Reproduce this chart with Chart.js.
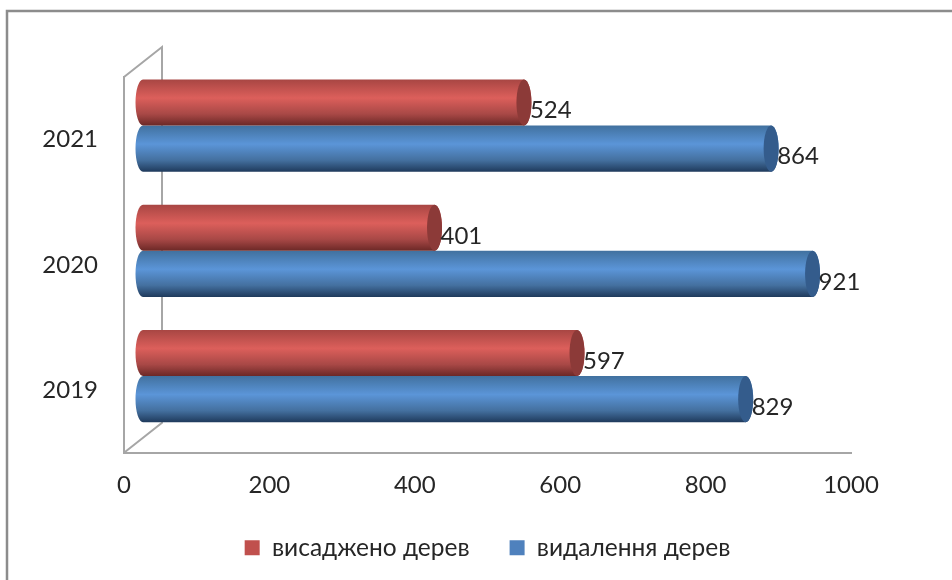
<!DOCTYPE html>
<html lang="uk">
<head>
  <meta charset="UTF-8">
  <title>Дерева</title>
  <script src="https://cdn.jsdelivr.net/npm/chart.js"></script>
  <style>
    html, body { margin: 0; background: #fff; }
    #wrap { position: relative; width: 952px; height: 580px; }
  </style>
</head>
<body>
  <div id="wrap"><canvas id="treesChart"></canvas></div>

  <script>
    const years = ['2021', '2020', '2019'];
    const planted = [524, 401, 597];
    const removed = [864, 921, 829];
    const plantedLabel = 'висаджено дерев';
    const removedLabel = 'видалення дерев';

    const FONT = 'Lato, "Open Sans", sans-serif';
    const WALL_DX = 38, WALL_DY = 30;
    const BAR_DX = 19, BAR_DY = 14;
    const CAP = 7.5;

    // [top, light middle, dark lower, bottom edge, cap]
    const shades = {
      red: ['#a84643', '#dc5f5b', '#a84846', '#6b2826', '#8c3a38'],
      blue: ['#41719f', '#5b95d8', '#44709f', '#1f3a5c', '#345c8c']
    };

    function cylinder(ctx, x0, x1, top, h, s) {
      const g = ctx.createLinearGradient(0, top, 0, top + h);
      g.addColorStop(0, s[0]);
      g.addColorStop(0.4, s[1]);
      g.addColorStop(0.75, s[2]);
      g.addColorStop(1, s[3]);
      const mid = top + h / 2;
      ctx.fillStyle = g;
      ctx.beginPath();
      ctx.moveTo(x0, top);
      ctx.lineTo(x1, top);
      ctx.ellipse(x1, mid, CAP, h / 2, 0, -Math.PI / 2, Math.PI / 2);
      ctx.lineTo(x0, top + h);
      ctx.ellipse(x0, mid, CAP, h / 2, 0, Math.PI / 2, Math.PI * 1.5);
      ctx.closePath();
      ctx.fill();
      ctx.fillStyle = s[4];
      ctx.beginPath();
      ctx.ellipse(x1, mid, CAP, h / 2, 0, 0, Math.PI * 2);
      ctx.fill();
    }

    const box3d = {
      id: 'box3d',
      beforeDatasetsDraw(chart) {
        const { ctx, chartArea: a } = chart;
        ctx.save();
        ctx.strokeStyle = '#a6a6a6';
        ctx.lineWidth = 2;
        ctx.beginPath();
        ctx.moveTo(a.left, a.top);
        ctx.lineTo(a.left + WALL_DX, a.top - WALL_DY);
        ctx.lineTo(a.left + WALL_DX, a.bottom - WALL_DY);
        ctx.lineTo(a.left, a.bottom);
        ctx.stroke();
        ctx.restore();
      },
      // own drawing in place of the flat bars, from the library's bar elements
      beforeDatasetDraw(chart, args) {
        const { ctx } = chart;
        const zero = chart.scales.x.getPixelForValue(0);
        const s = args.index === 0 ? shades.red : shades.blue;
        args.meta.data.forEach(bar => {
          cylinder(ctx, zero + BAR_DX, bar.x + BAR_DX, bar.y - bar.height / 2 - BAR_DY, bar.height, s);
        });
        return false;
      },
      afterDatasetsDraw(chart) {
        const { ctx } = chart;
        ctx.save();
        ctx.font = '24px ' + FONT;
        ctx.fillStyle = '#262626';
        ctx.textBaseline = 'middle';
        chart.data.datasets.forEach((ds, i) => {
          chart.getDatasetMeta(i).data.forEach((bar, j) => {
            ctx.fillText(ds.data[j], bar.x + BAR_DX + 6, bar.y - BAR_DY + 8);
          });
        });
        ctx.restore();
      },
      afterDraw(chart) {
        const { ctx } = chart;
        ctx.save();
        ctx.strokeStyle = '#8c8c8c';
        ctx.lineWidth = 2.5;
        ctx.beginPath();
        ctx.moveTo(7, 580);
        ctx.lineTo(7, 11);
        ctx.lineTo(952, 11);
        ctx.stroke();
        ctx.restore();
      }
    };

    new Chart(document.getElementById('treesChart').getContext('2d'), {
      type: 'bar',
      data: {
        labels: years,
        datasets: [
          { label: plantedLabel, data: planted, backgroundColor: '#c0504d', categoryPercentage: 0.736, barPercentage: 1 },
          { label: removedLabel, data: removed, backgroundColor: '#4f81bd', categoryPercentage: 0.736, barPercentage: 1 }
        ]
      },
      options: {
        indexAxis: 'y',
        responsive: true,
        maintainAspectRatio: false,
        animation: false,
        layout: { padding: { top: 77, right: 101, left: 0, bottom: 10 } },
        scales: {
          x: {
            min: 0,
            max: 1000,
            afterFit(scale) { scale.height -= 14; },
            grid: { display: false },
            border: { color: '#a6a6a6', width: 2 },
            ticks: {
              stepSize: 200,
              padding: 10,
              color: '#262626',
              font: { family: FONT, size: 24 },
              maxRotation: 0,
              callback: v => String(v)
            }
          },
          y: {
            afterFit(scale) { scale.width = 124; },
            grid: { display: false },
            border: { color: '#a6a6a6', width: 2 },
            ticks: { padding: 18, color: '#262626', font: { family: FONT, size: 24 } }
          }
        },
        plugins: {
          tooltip: { enabled: false },
          legend: {
            position: 'bottom',
            fullSize: false,
            labels: { boxWidth: 15, boxHeight: 15, padding: 40, color: '#262626', font: { family: FONT, size: 24.5 } }
          }
        }
      },
      plugins: [box3d]
    });
  </script>
</body>
</html>
